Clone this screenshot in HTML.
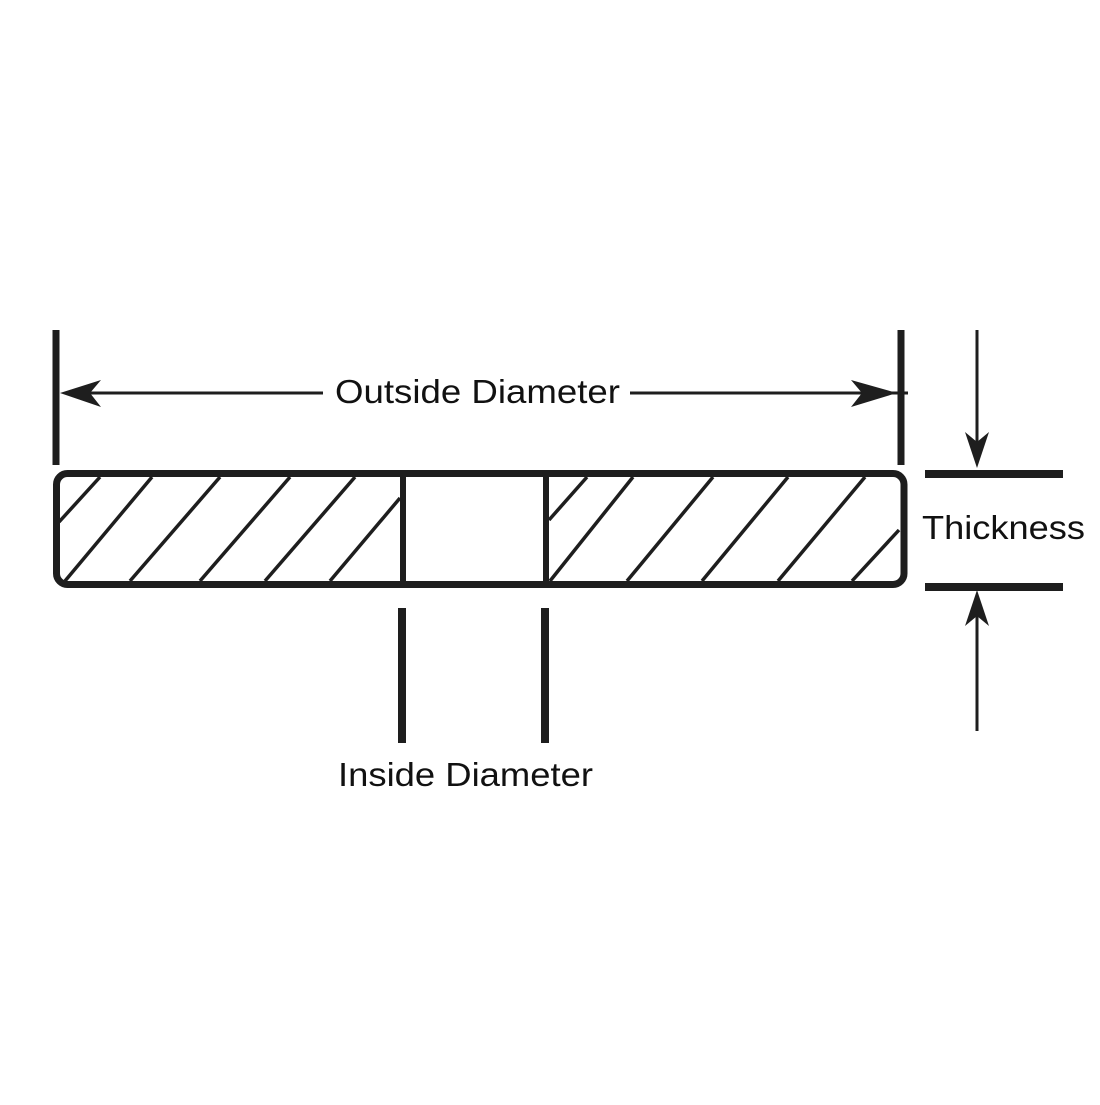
<!DOCTYPE html>
<html><head><style>html,body{margin:0;padding:0;background:#fff}</style></head>
<body>
<svg width="1100" height="1100" viewBox="0 0 1100 1100" xmlns="http://www.w3.org/2000/svg">
<rect width="1100" height="1100" fill="#fff"/>
<g stroke="#1e1e1e" fill="none" stroke-linecap="butt">
<line x1="56" y1="330" x2="56" y2="465" stroke-width="7"/>
<line x1="901" y1="330" x2="901" y2="465" stroke-width="7"/>
<line x1="65" y1="393" x2="323" y2="393" stroke-width="3"/>
<line x1="630" y1="393" x2="908" y2="393" stroke-width="3"/>
<rect x="56.5" y="473.5" width="847.5" height="111" rx="11" stroke-width="7"/>
<line x1="403" y1="473" x2="403" y2="584" stroke-width="6"/>
<line x1="546" y1="473" x2="546" y2="584" stroke-width="6"/>
<g stroke-width="3.5">
<line x1="100" y1="477" x2="59" y2="522"/>
<line x1="152" y1="477" x2="65" y2="581"/>
<line x1="220" y1="477" x2="130" y2="581"/>
<line x1="290" y1="477" x2="200" y2="581"/>
<line x1="355" y1="477" x2="265" y2="581"/>
<line x1="400" y1="498" x2="330" y2="581"/>
<line x1="587" y1="477" x2="549" y2="520"/>
<line x1="633" y1="477" x2="550" y2="581"/>
<line x1="713" y1="477" x2="627" y2="581"/>
<line x1="788" y1="477" x2="702" y2="581"/>
<line x1="865" y1="477" x2="778" y2="581"/>
<line x1="899" y1="530" x2="852" y2="581"/>
</g>
<line x1="402" y1="608" x2="402" y2="743" stroke-width="8"/>
<line x1="545" y1="608" x2="545" y2="743" stroke-width="8"/>
<line x1="925" y1="474" x2="1063" y2="474" stroke-width="8"/>
<line x1="925" y1="587" x2="1063" y2="587" stroke-width="8"/>
<line x1="977" y1="330" x2="977" y2="455" stroke-width="3"/>
<line x1="977" y1="605" x2="977" y2="731" stroke-width="3"/>
</g>
<g fill="#1e1e1e">
<path d="M60,393 L101,380 L90,393 L101,407 Z"/>
<path d="M897,393 L851,380 L862,393 L851,407 Z"/>
<path d="M977,468 L965,432 L977,442 L989,432 Z"/>
<path d="M977,590 L965,626 L977,616 L989,626 Z"/>
</g>
<g font-family="Liberation Sans, sans-serif" font-size="33" fill="#111">
<text x="335" y="403" textLength="285" lengthAdjust="spacingAndGlyphs">Outside Diameter</text>
<text x="922" y="539" textLength="163" lengthAdjust="spacingAndGlyphs">Thickness</text>
<text x="338" y="786" textLength="255" lengthAdjust="spacingAndGlyphs">Inside Diameter</text>
</g>
</svg>
</body></html>
